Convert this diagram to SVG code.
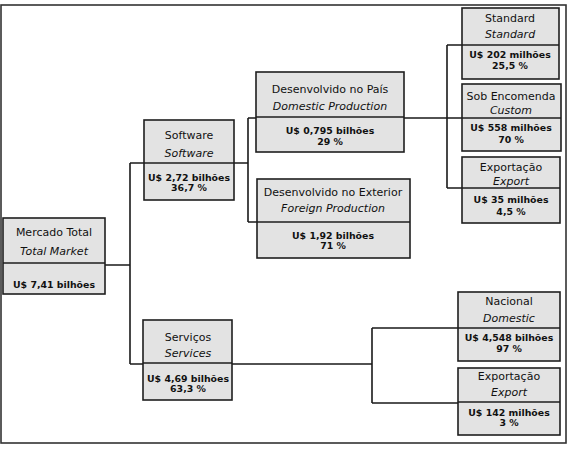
<svg xmlns="http://www.w3.org/2000/svg" width="568" height="449" viewBox="0 0 568 449">
<style>
.bx{fill:#e3e3e3;stroke:#1e1e1e;stroke-width:1.6}
.dv{stroke:#1e1e1e;stroke-width:1.4}
.t{font-family:"DejaVu Sans",Verdana,sans-serif;font-size:11px;fill:#111;text-anchor:middle}
.i{font-family:"DejaVu Sans",Verdana,sans-serif;font-size:11px;font-style:italic;fill:#111;text-anchor:middle}
.v{font-family:"DejaVu Sans",Verdana,sans-serif;font-size:9.4px;font-weight:bold;fill:#111;text-anchor:middle}
.c{fill:none;stroke:#1a1a1a;stroke-width:1.6}
</style>
<rect x="0" y="0" width="568" height="449" fill="#fff"/>
<rect x="1" y="5" width="565" height="438" fill="none" stroke="#333" stroke-width="1.6"/>
<g id="connectors">
<path class="c" d="M105 265H130M130 163V364M130 163H144M130 364H143"/>
<path class="c" d="M234 163H248M248 118V222M248 118H256M248 222H257"/>
<path class="c" d="M404 118H462M447 45V188M447 45H462M447 188H462"/>
<path class="c" d="M232 364H372M372 328V403M372 328H458M372 403H458"/>
</g>
<g id="mercado">
<rect class="bx" x="3" y="218" width="102" height="76"/>
<line class="dv" x1="3" y1="263" x2="105" y2="263"/>
<text class="t" x="54" y="236">Mercado Total</text>
<text class="i" x="54" y="255">Total Market</text>
<text class="v" x="54" y="288">U$ 7,41 bilhões</text>
</g>
<g id="software">
<rect class="bx" x="144" y="120" width="90" height="80"/>
<line class="dv" x1="144" y1="163" x2="234" y2="163"/>
<text class="t" x="189" y="139">Software</text>
<text class="i" x="189" y="157">Software</text>
<text class="v" x="189" y="181">U$ 2,72 bilhões</text>
<text class="v" x="189" y="191">36,7 %</text>
</g>
<g id="servicos">
<rect class="bx" x="143" y="320" width="89" height="80"/>
<line class="dv" x1="143" y1="363" x2="232" y2="363"/>
<text class="t" x="188" y="341">Serviços</text>
<text class="i" x="188" y="357">Services</text>
<text class="v" x="188" y="382">U$ 4,69 bilhões</text>
<text class="v" x="188" y="392">63,3 %</text>
</g>
<g id="pais">
<rect class="bx" x="256" y="72" width="148" height="80"/>
<line class="dv" x1="256" y1="117" x2="404" y2="117"/>
<text class="t" x="330" y="93">Desenvolvido no País</text>
<text class="i" x="330" y="110">Domestic Production</text>
<text class="v" x="330" y="134">U$ 0,795 bilhões</text>
<text class="v" x="330" y="145">29 %</text>
</g>
<g id="exterior">
<rect class="bx" x="257" y="179" width="153" height="79"/>
<line class="dv" x1="257" y1="222" x2="410" y2="222"/>
<text class="t" x="333" y="196">Desenvolvido no Exterior</text>
<text class="i" x="333" y="212">Foreign Production</text>
<text class="v" x="333" y="239">U$ 1,92 bilhões</text>
<text class="v" x="333" y="249">71 %</text>
</g>
<g id="standard">
<rect class="bx" x="462" y="8" width="97" height="71"/>
<line class="dv" x1="462" y1="45" x2="559" y2="45"/>
<text class="t" x="510" y="22">Standard</text>
<text class="i" x="510" y="38">Standard</text>
<text class="v" x="510" y="58">U$ 202 milhões</text>
<text class="v" x="510" y="69">25,5 %</text>
</g>
<g id="custom">
<rect class="bx" x="462" y="84" width="99" height="67"/>
<line class="dv" x1="462" y1="118" x2="561" y2="118"/>
<text class="t" x="511" y="100">Sob Encomenda</text>
<text class="i" x="511" y="114">Custom</text>
<text class="v" x="511" y="131">U$ 558 milhões</text>
<text class="v" x="511" y="143">70 %</text>
</g>
<g id="export-sw">
<rect class="bx" x="462" y="157" width="98" height="66"/>
<line class="dv" x1="462" y1="188" x2="560" y2="188"/>
<text class="t" x="511" y="171">Exportação</text>
<text class="i" x="511" y="185">Export</text>
<text class="v" x="511" y="203">U$ 35 milhões</text>
<text class="v" x="511" y="215">4,5 %</text>
</g>
<g id="nacional">
<rect class="bx" x="458" y="292" width="102" height="69"/>
<line class="dv" x1="458" y1="328" x2="560" y2="328"/>
<text class="t" x="509" y="305">Nacional</text>
<text class="i" x="509" y="322">Domestic</text>
<text class="v" x="509" y="341">U$ 4,548 bilhões</text>
<text class="v" x="509" y="352">97 %</text>
</g>
<g id="export-sv">
<rect class="bx" x="458" y="368" width="102" height="67"/>
<line class="dv" x1="458" y1="402" x2="560" y2="402"/>
<text class="t" x="509" y="380">Exportação</text>
<text class="i" x="509" y="396">Export</text>
<text class="v" x="509" y="416">U$ 142 milhões</text>
<text class="v" x="509" y="426">3 %</text>
</g>
</svg>
